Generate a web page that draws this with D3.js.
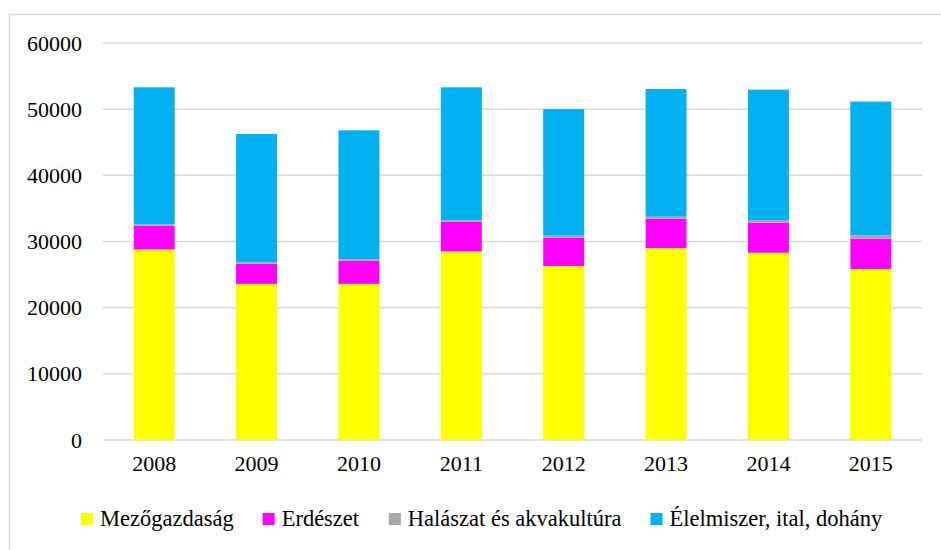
<!DOCTYPE html>
<html>
<head>
<meta charset="utf-8">
<script src="https://cdn.jsdelivr.net/npm/d3@7"></script>
<style>
  body { margin: 0; background: #fff; }
  svg text { font-family: "Liberation Serif", "DejaVu Serif", serif !important; fill: #000; }
</style>
</head>
<body>
<svg class="chart"></svg>
<script>
var years = ["2008", "2009", "2010", "2011", "2012", "2013", "2014", "2015"];
var seriesNames = ["Mezőgazdaság", "Erdészet", "Halászat és akvakultúra", "Élelmiszer, ital, dohány"];
var mezogazdasag = [28800, 23600, 23600, 28500, 26300, 29000, 28300, 25850];
var erdeszet     = [3600, 3050, 3500, 4500, 4300, 4450, 4550, 4550];
var halaszat     = [200, 200, 200, 200, 300, 300, 400, 550];
var elelmiszer   = [20700, 19400, 19500, 20100, 19100, 19300, 19700, 20200];
var yTicks = [0, 10000, 20000, 30000, 40000, 50000, 60000];
var colors = ["#FFFF00", "#FF00FF", "#A6A6A6", "#00B0F0"];

var W = 941, H = 550;
var margin = {top: 43, left: 103, right: 19, bottom: 110};
var serif = '"Liberation Serif", "DejaVu Serif", serif';

var svg = d3.select(".chart").attr("width", W).attr("height", H);

// chart frame
svg.append("rect")
    .attr("x", 9.5).attr("y", 14.5)
    .attr("width", W + 20).attr("height", H + 20)
    .attr("fill", "none").attr("stroke", "#D9D9D9").attr("stroke-width", 1.5);

var x = d3.scaleBand().domain(years)
    .range([margin.left, W - margin.right])
    .paddingInner(0.6).paddingOuter(0.3);

var y = d3.scaleLinear().domain([0, 60000])
    .range([H - margin.bottom, margin.top]);

// grid lines
svg.append("g").selectAll("line")
    .data(yTicks).enter().append("line")
    .attr("x1", margin.left).attr("x2", W - margin.right)
    .attr("y1", function(d) { return y(d); })
    .attr("y2", function(d) { return y(d); })
    .attr("stroke", "#D9D9D9").attr("stroke-width", 1.5);

// y axis labels
var yAxis = d3.axisLeft(y).tickValues(yTicks).tickSize(0).tickPadding(0)
    .tickFormat(d3.format("d"));
svg.append("g")
    .attr("transform", "translate(82,0)")
    .call(yAxis)
    .attr("font-family", serif).attr("font-size", 22)
    .call(function(g) { g.select(".domain").remove(); })
    .selectAll("text")
    .attr("fill", "#000");

// x axis labels
var xAxis = d3.axisBottom(x).tickSize(0).tickPadding(0);
svg.append("g")
    .attr("transform", "translate(0," + (y(0) + 15) + ")")
    .call(xAxis)
    .attr("font-family", serif).attr("font-size", 22)
    .call(function(g) { g.select(".domain").remove(); })
    .selectAll("text")
    .attr("fill", "#000");

// stacked bars
var rows = years.map(function(yr, i) {
    return {year: yr, s0: mezogazdasag[i], s1: erdeszet[i], s2: halaszat[i], s3: elelmiszer[i]};
});
var stack = d3.stack().keys(["s0", "s1", "s2", "s3"]);
var layers = stack(rows);

svg.append("g").selectAll("g")
    .data(layers).enter().append("g")
    .attr("fill", function(d, i) { return colors[i]; })
    .selectAll("rect")
    .data(function(d) { return d; }).enter().append("rect")
    .attr("x", function(d) { return x(d.data.year); })
    .attr("width", x.bandwidth())
    .attr("y", function(d) { return y(d[1]); })
    .attr("height", function(d) { return y(d[0]) - y(d[1]); });

// legend
var legend = svg.append("g").attr("font-family", serif);
var items = legend.selectAll("g").data(seriesNames).enter().append("g");
items.append("rect")
    .attr("width", 12).attr("height", 12).attr("y", -13)
    .attr("fill", function(d, i) { return colors[i]; });
items.append("text")
    .attr("x", 19).attr("y", 0)
    .attr("font-size", 22.5)
    .text(function(d) { return d; });

var gap = 29;
var pos = 0;
items.each(function() {
    d3.select(this).attr("transform", "translate(" + pos + ",0)");
    pos += this.getBBox().width + gap;
});
var total = pos - gap;
legend.attr("transform", "translate(" + (482 - total / 2) + ",526)");
</script>
</body>
</html>
